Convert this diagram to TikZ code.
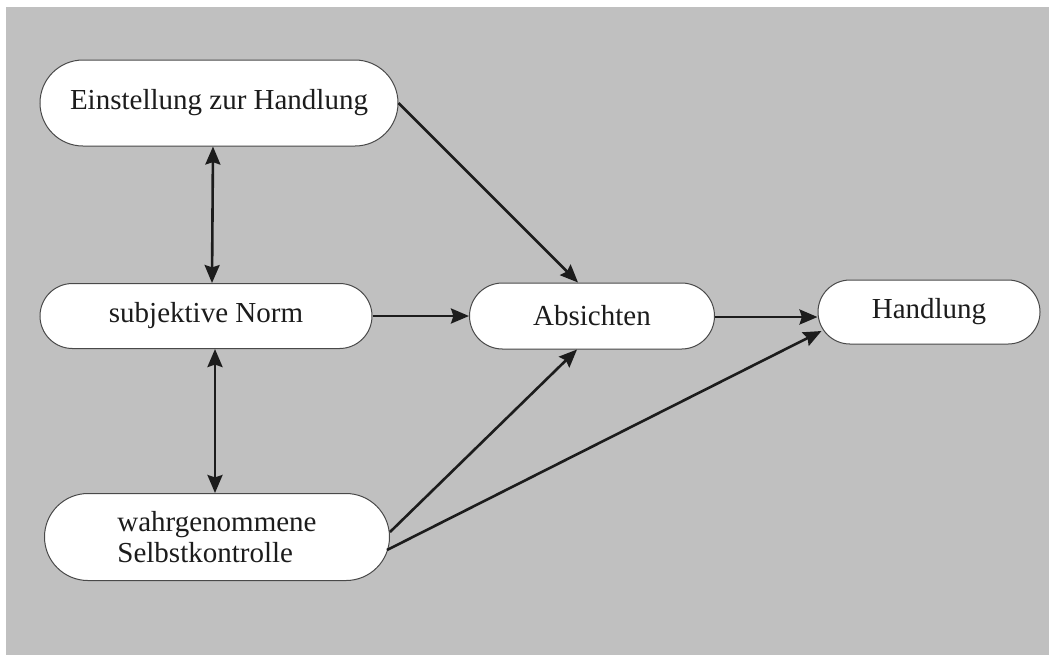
\documentclass[tikz,border=0pt]{standalone}
\usepackage{fontspec}
\setmainfont{Liberation Serif}
\usetikzlibrary{shapes.misc,arrows.meta}
\definecolor{bggray}{RGB}{192,192,192}
\definecolor{ink}{RGB}{28,28,28}
\begin{document}
\begin{tikzpicture}[x=0.5pt, y=-0.5pt, >={Stealth[length=9pt,width=7.5pt,inset=1.2pt]},
    box/.style={rounded rectangle, draw=ink!80, line width=0.5pt, fill=white,
        font=\fontsize{14.5}{15.5}\selectfont, text=ink, inner sep=0pt},
    link/.style={->, line width=1.3pt, ink},
    both/.style={<->, line width=1.3pt, ink}]
    % Background
    \useasboundingbox (0,0) rectangle (1049,655);
    \fill[bggray] (6,7) rectangle (1049,655);

    % Boxes
    \node[box, minimum width=179pt, minimum height=43pt] (ein) at (219,103) {Einstellung zur Handlung};
    \node[box, minimum width=166pt, minimum height=32.5pt] (norm) at (206,316) {subjektive Norm};
    \node[box, minimum width=172.5pt, minimum height=43.5pt, align=left] (self) at (217,537)
        {wahrgenommene\\Selbstkontrolle};
    \node[box, minimum width=122.5pt, minimum height=33pt] (abs) at (592,316) {Absichten};
    \node[box, minimum width=111pt, minimum height=32pt] (hand) at (929,312) {Handlung};

    % Correlations
    \draw[both] ([xshift=-3pt]ein.south) -- ([xshift=3pt]norm.north);
    \draw[both] ([xshift=4.5pt]norm.south) -- ([xshift=-1pt]self.north);

    % Paths
    \draw[link] (ein.east) -- ([xshift=-7pt]abs.north);
    \draw[link] (norm.east) -- (abs.west);
    \draw[link] ([yshift=2.5pt]self.east) -- ([xshift=-7.5pt]abs.south);
    \draw[link] ([yshift=-0.5pt]abs.east) -- ([yshift=-0.5pt]abs.east -| hand.west);
    \draw[link] ([xshift=-1.5pt,yshift=-6.5pt]self.east) -- ([xshift=2pt,yshift=-9.5pt]hand.west);
\end{tikzpicture}
\end{document}
